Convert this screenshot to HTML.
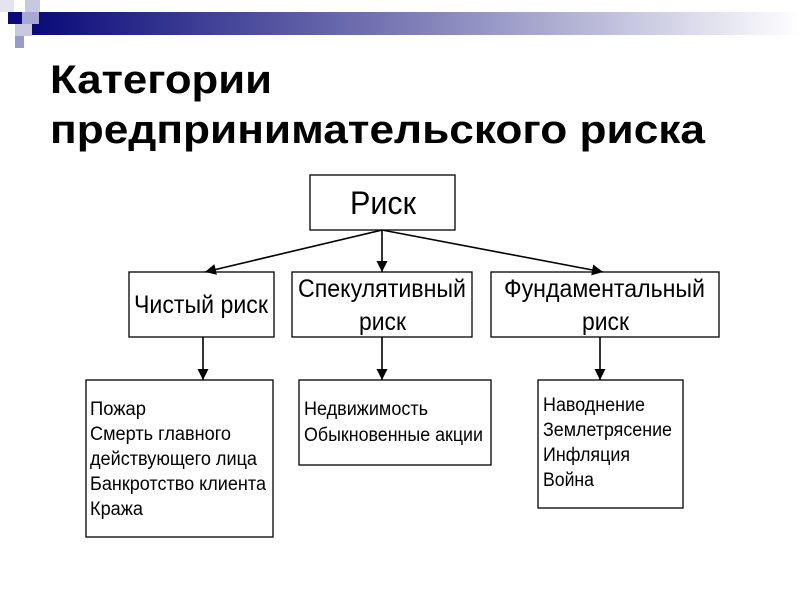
<!DOCTYPE html>
<html><head><meta charset="utf-8"><style>
html,body{margin:0;padding:0;background:#fff;}
svg{display:block;}
text{font-family:"Liberation Sans",Arial,sans-serif;fill:#000;}
</style></head><body>
<svg width="800" height="600" viewBox="0 0 800 600" xmlns="http://www.w3.org/2000/svg">
<defs>
<linearGradient id="g" x1="0" x2="1" y1="0" y2="0">
<stop offset="0" stop-color="#0a0a7a"/>
<stop offset="0.5" stop-color="#7f7fb8"/>
<stop offset="1" stop-color="#ffffff"/>
</linearGradient>
<marker id="a" viewBox="0 0 10 10" refX="10" refY="5" markerWidth="11" markerHeight="11" orient="auto" markerUnits="userSpaceOnUse">
<path d="M0,0 L10,5 L0,10 z" fill="#000"/>
</marker>
</defs>
<rect x="32" y="12" width="768" height="23" fill="url(#g)"/>
<rect x="0" y="0" width="14" height="12" fill="#e4e4f0"/>
<rect x="25" y="0" width="15" height="12" fill="#c8c8e0"/>
<rect x="8" y="12" width="14" height="12" fill="#0a0a7a"/>
<rect x="22" y="12" width="17" height="12" fill="#a8a8d0"/>
<rect x="15" y="24" width="17" height="12" fill="#c8c8e0"/>
<rect x="15" y="36" width="9" height="12" fill="#9999cc"/>
<text x="50" y="93" font-size="40" font-weight="bold" textLength="222" lengthAdjust="spacingAndGlyphs">Категории</text>
<text x="50" y="143" font-size="40" font-weight="bold" textLength="655" lengthAdjust="spacingAndGlyphs">предпринимательского риска</text>
<g fill="#fff" stroke="#000" stroke-width="1.3">
<rect x="310" y="175" width="145" height="55"/>
<rect x="129" y="272" width="145" height="65"/>
<rect x="292" y="272" width="180" height="65"/>
<rect x="491" y="272" width="228" height="65"/>
<rect x="86" y="380" width="187" height="157"/>
<rect x="299" y="380" width="192" height="85"/>
<rect x="538" y="380" width="145" height="128"/>
</g>
<g stroke="#000" stroke-width="1.6" marker-end="url(#a)">
<line x1="382" y1="230" x2="205" y2="272"/>
<line x1="382" y1="230" x2="382" y2="272"/>
<line x1="382" y1="230" x2="603" y2="272"/>
<line x1="203" y1="337" x2="203" y2="380"/>
<line x1="382" y1="337" x2="382" y2="380"/>
<line x1="600" y1="337" x2="600" y2="380"/>
</g>
<text x="350" y="214" font-size="32" textLength="66" lengthAdjust="spacingAndGlyphs">Риск</text>
<text x="134" y="313" font-size="25" textLength="134" lengthAdjust="spacingAndGlyphs">Чистый риск</text>
<text x="298" y="297" font-size="25" textLength="168" lengthAdjust="spacingAndGlyphs">Спекулятивный</text>
<text x="359" y="330" font-size="25" textLength="47" lengthAdjust="spacingAndGlyphs">риск</text>
<text x="504" y="297" font-size="25" textLength="201" lengthAdjust="spacingAndGlyphs">Фундаментальный</text>
<text x="582" y="330" font-size="25" textLength="47" lengthAdjust="spacingAndGlyphs">риск</text>
<g font-size="19">
<text x="90" y="415" textLength="56" lengthAdjust="spacingAndGlyphs">Пожар</text>
<text x="90" y="440" textLength="141" lengthAdjust="spacingAndGlyphs">Смерть главного</text>
<text x="90" y="465" textLength="167" lengthAdjust="spacingAndGlyphs">действующего лица</text>
<text x="90" y="490" textLength="176" lengthAdjust="spacingAndGlyphs">Банкротство клиента</text>
<text x="90" y="515" textLength="53" lengthAdjust="spacingAndGlyphs">Кража</text>
<text x="304" y="415" textLength="124" lengthAdjust="spacingAndGlyphs">Недвижимость</text>
<text x="304" y="441" textLength="179" lengthAdjust="spacingAndGlyphs">Обыкновенные акции</text>
<text x="543" y="411" textLength="102" lengthAdjust="spacingAndGlyphs">Наводнение</text>
<text x="543" y="436" textLength="129" lengthAdjust="spacingAndGlyphs">Землетрясение</text>
<text x="543" y="461" textLength="87" lengthAdjust="spacingAndGlyphs">Инфляция</text>
<text x="543" y="486" textLength="51" lengthAdjust="spacingAndGlyphs">Война</text>
</g>
</svg>
</body></html>
